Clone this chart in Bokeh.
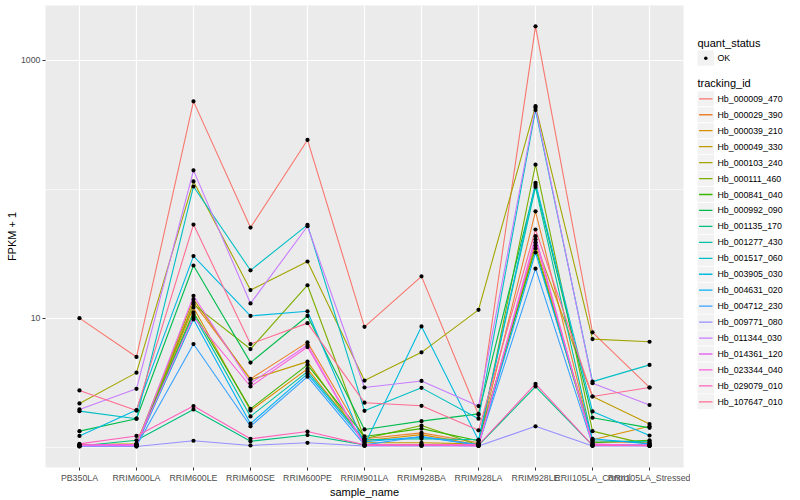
from bokeh.plotting import figure
from bokeh.models import Range1d, FixedTicker, PrintfTickFormatter, AllLabels, ColumnDataSource
from bokeh.layouts import row
from bokeh.embed import file_html
from bokeh.resources import INLINE
from bokeh.core.properties import value

FONT = "Liberation Sans"

samples = ["PB350LA", "RRIM600LA", "RRIM600LE", "RRIM600SE", "RRIM600PE",
           "RRIM901LA", "RRIM928BA", "RRIM928LA", "RRIM928LE",
           "RRII105LA_Control", "RRII105LA_Stressed"]

tracking_ids = ["Hb_000009_470", "Hb_000029_390", "Hb_000039_210", "Hb_000049_330",
                "Hb_000103_240", "Hb_000111_460", "Hb_000841_040", "Hb_000992_090",
                "Hb_001135_170", "Hb_001277_430", "Hb_001517_060", "Hb_003905_030",
                "Hb_004631_020", "Hb_004712_230", "Hb_009771_080", "Hb_011344_030",
                "Hb_014361_120", "Hb_023344_040", "Hb_029079_010", "Hb_107647_010"]

colors = ["#F8766D", "#EA8331", "#D89000", "#C09B00", "#A3A500", "#7CAE00",
          "#39B600", "#00BB4E", "#00BF7D", "#00C1A3", "#00BFC4", "#00BAE0",
          "#00B0F6", "#35A2FF", "#9590FF", "#C77CFF", "#E76BF3", "#FA62DB",
          "#FF62BC", "#FF6C91"]

# FPKM + 1 per sample, one list per tracking_id
Hb_000009_470 = [10.0, 5.0, 480, 50.4, 241, 8.57, 21.1, 1.78, 1832, 7.76, 2.90]
Hb_000029_390 = [1.03, 1.05, 13.2, 3.38, 6.49, 1.16, 1.29, 1.08, 67.4, 1.10, 1.08]
Hb_000039_210 = [1.02, 1.03, 12.1, 1.92, 4.04, 1.12, 1.25, 1.04, 36.6, 1.14, 1.45]
Hb_000049_330 = [1.04, 1.06, 14.0, 3.33, 4.60, 1.08, 1.08, 1.06, 38.6, 2.47, 1.51]
Hb_000103_240 = [2.18, 3.78, 115, 16.5, 27.5, 3.28, 5.43, 11.6, 441, 6.88, 6.56]
Hb_000111_460 = [1.03, 1.02, 12.8, 5.76, 18.0, 1.16, 1.47, 1.04, 155, 1.33, 1.04]
Hb_000841_040 = [1.02, 1.04, 11.1, 1.98, 4.34, 1.21, 1.39, 1.12, 34.7, 1.08, 1.13]
Hb_000992_090 = [1.33, 1.66, 25.6, 4.52, 10.4, 1.37, 1.59, 1.81, 108, 1.69, 1.41]
Hb_001135_170 = [1.02, 1.13, 1.96, 1.11, 1.24, 1.04, 1.03, 1.03, 2.95, 1.03, 1.03]
Hb_001277_430 = [1.03, 1.04, 10.7, 1.73, 3.85, 1.14, 1.16, 1.14, 104, 1.12, 1.10]
Hb_001517_060 = [1.90, 1.66, 105, 23.5, 52.9, 1.91, 2.88, 1.66, 411, 3.22, 4.34]
Hb_003905_030 = [1.22, 1.94, 30.3, 10.4, 11.3, 1.04, 8.63, 1.13, 112, 1.89, 1.23]
Hb_004631_020 = [1.02, 1.03, 9.8, 1.52, 3.70, 1.10, 1.20, 1.04, 32.3, 1.16, 1.06]
Hb_004712_230 = [1.02, 1.02, 6.30, 1.45, 3.52, 1.04, 1.21, 1.04, 24.2, 1.04, 1.04]
Hb_009771_080 = [1.01, 1.01, 1.12, 1.03, 1.08, 1.02, 1.02, 1.02, 1.45, 1.02, 1.02]
Hb_011344_030 = [1.96, 2.83, 140, 13.0, 51.6, 2.90, 3.26, 2.08, 431, 3.13, 2.12]
Hb_014361_120 = [1.03, 1.03, 14.9, 3.13, 6.19, 1.04, 1.04, 1.02, 43.2, 1.04, 1.04]
Hb_023344_040 = [1.04, 1.05, 10.2, 2.95, 5.97, 1.03, 1.04, 1.04, 40.7, 1.06, 1.02]
Hb_029079_010 = [1.06, 1.22, 2.08, 1.16, 1.32, 1.04, 1.04, 1.04, 3.09, 1.03, 1.03]
Hb_107647_010 = [2.75, 1.92, 53.2, 6.30, 9.15, 2.21, 2.09, 1.35, 48.7, 2.47, 2.90]

series = [Hb_000009_470, Hb_000029_390, Hb_000039_210, Hb_000049_330, Hb_000103_240,
          Hb_000111_460, Hb_000841_040, Hb_000992_090, Hb_001135_170, Hb_001277_430,
          Hb_001517_060, Hb_003905_030, Hb_004631_020, Hb_004712_230, Hb_009771_080,
          Hb_011344_030, Hb_014361_120, Hb_023344_040, Hb_029079_010, Hb_107647_010]

y_ticks = [10, 1000]
y_minor = [1, 100]

xs = list(range(len(samples)))

p = figure(width=690, height=500, x_range=Range1d(-0.596, 10.596),
           y_range=Range1d(0.6947, 2659), y_axis_type="log",
           output_backend="svg", toolbar_location=None,
           min_border_left=45, min_border_right=7, min_border_top=5, min_border_bottom=31,
           background_fill_color="#EBEBEB", border_fill_color="white",
           outline_line_color=None)

for vals, c in zip(series, colors):
    p.line(x=xs, y=vals, line_color=c, line_width=1.1)

px, py = [], []
for vals in series:
    px.extend(xs)
    py.extend(vals)
p.scatter(x=px, y=py, size=4.2, fill_color="black", line_color=None)

p.xaxis.ticker = FixedTicker(ticks=xs)
p.xaxis.major_label_overrides = {i: s for i, s in enumerate(samples)}
p.yaxis.ticker = FixedTicker(ticks=y_ticks, minor_ticks=y_minor)
p.yaxis.formatter = PrintfTickFormatter(format="%d")

for ax in (p.xaxis[0], p.yaxis[0]):
    ax.major_label_policy = AllLabels()
    ax.axis_line_color = None
    ax.major_tick_line_color = "#333333"
    ax.major_tick_out = 3
    ax.major_tick_in = 0
    ax.minor_tick_out = 0
    ax.minor_tick_in = 0
    ax.major_label_text_font = FONT
    ax.major_label_text_font_size = "8.8px"
    ax.major_label_text_color = "#4D4D4D"
    ax.major_label_standoff = 2
    ax.axis_label_text_font = FONT
    ax.axis_label_text_font_size = "11px"
    ax.axis_label_text_font_style = "normal"
    ax.axis_label_text_color = "black"
    ax.axis_label_standoff = 0

p.xaxis.axis_label = "sample_name"
p.yaxis.axis_label = "FPKM + 1"
p.xaxis.major_label_standoff = 2
p.xaxis.axis_label_standoff = 0

p.xgrid.grid_line_color = "white"
p.xgrid.grid_line_width = 1.2
p.ygrid.grid_line_color = "white"
p.ygrid.grid_line_width = 1.2
p.ygrid.minor_grid_line_color = "white"
p.ygrid.minor_grid_line_width = 0.6

# legend panel (separate figure to the right of the plot)
leg = figure(width=110, height=500, x_range=Range1d(0, 110), y_range=Range1d(500, 0),
             output_backend="svg", toolbar_location=None, min_border=0,
             x_axis_location=None, y_axis_location=None,
             outline_line_color=None, background_fill_color="white",
             border_fill_color="white")
leg.grid.visible = False

leg.text(x=[7], y=[41], text=["quant_status"], text_font=value(FONT),
         text_font_size="11px", text_baseline="middle", text_align="left", text_color="black")
leg.rect(x=[15.3], y=[57], width=16.5, height=16.5, fill_color="#F2F2F2", line_color=None)
leg.scatter(x=[15.3], y=[57], size=3.5, fill_color="black", line_color=None)
leg.text(x=[27], y=[57], text=["OK"], text_font=value(FONT),
         text_font_size="8.8px", text_baseline="middle", text_align="left", text_color="black")

leg.text(x=[7], y=[84], text=["tracking_id"], text_font=value(FONT),
         text_font_size="11px", text_baseline="middle", text_align="left", text_color="black")

step = 17.26
ky = [101 + step * i for i in range(len(tracking_ids))]
n = len(ky)
src = ColumnDataSource(dict(xc=[15.3] * n, x0=[8.5] * n, x1=[22] * n, xt=[27] * n, y=ky,
                            color=colors, label=tracking_ids))
leg.rect(x="xc", y="y", width=16.5, height=16.3, fill_color="#F2F2F2", line_color=None, source=src)
leg.segment(x0="x0", y0="y", x1="x1", y1="y", line_color="color", line_width=1.3, source=src)
leg.text(x="xt", y="y", text="label", text_font=value(FONT),
         text_font_size="8.8px", text_baseline="middle", text_align="left",
         text_color="black", source=src)

layout = row(p, leg)
open("out.html", "w").write(file_html(layout, INLINE))
